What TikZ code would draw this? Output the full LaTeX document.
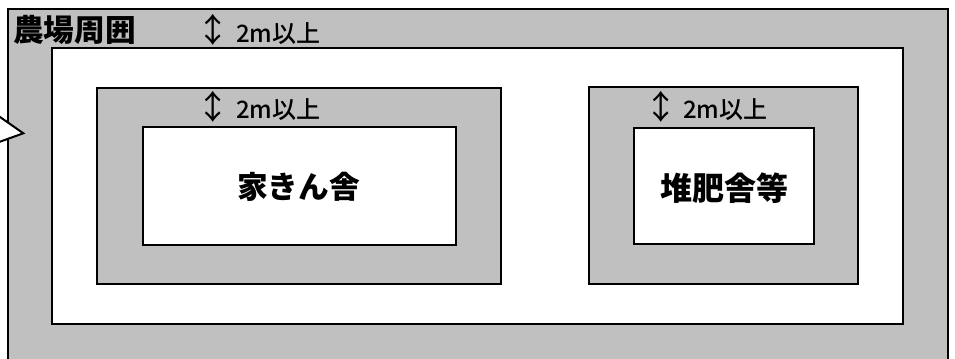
\documentclass[tikz,border=0pt]{standalone}
\usepackage{fontspec}
\setmainfont{Noto Sans CJK JP}
\newfontfamily\jpmed{Noto Sans CJK JP Medium}
\definecolor{bandgray}{HTML}{C0C0C0}
\begin{document}
\begin{tikzpicture}[x=0.75pt,y=-0.75pt,
  wall/.style={draw=black,line width=1.5pt,line join=miter},
  band/.style={wall,fill=bandgray},
  area/.style={wall,fill=white},
  bigtxt/.style={inner sep=0pt,font=\bfseries\fontsize{23}{23}\selectfont},
  dist/.style={inner sep=0pt,anchor=west,font=\jpmed\fontsize{18}{18}\selectfont},
  updown/.style={inner sep=0pt,font=\fontsize{25}{25}\selectfont}]
\useasboundingbox (0,0) rectangle (955,359);
\clip (0,0) rectangle (955,359);
% farm perimeter band
\path[band] (8,9) rectangle (948,380);
\path[area] (52,48) rectangle (903,324);
% poultry house band and house
\path[band] (97,88) rectangle (501,284);
\path[area] (143,127) rectangle (456,245);
% compost house band and house
\path[band] (589,87) rectangle (858,284);
\path[area] (634,128) rectangle (814,244);
% entrance arrow tip
\path[area] (-10,110) -- (23.3,133.3) -- (-10,145.3);
% labels
\node[bigtxt,anchor=west] (farm) at (13,30) {農場周囲};
\node[updown] (a1) at (213,30) {↕};
\node[dist] (d1) at (236,33.5) {2m以上};
\node[updown] (a2) at (213,107) {↕};
\node[dist] (d2) at (236,109.5) {2m以上};
\node[updown] (a3) at (661,107) {↕};
\node[dist] (d3) at (683,110) {2m以上};
\node[bigtxt] (house) at (298.5,186.5) {家きん舎};
\node[bigtxt,font=\bfseries\fontsize{24}{24}\selectfont] (compost) at (724.5,188) {堆肥舎等};
\end{tikzpicture}
\end{document}
